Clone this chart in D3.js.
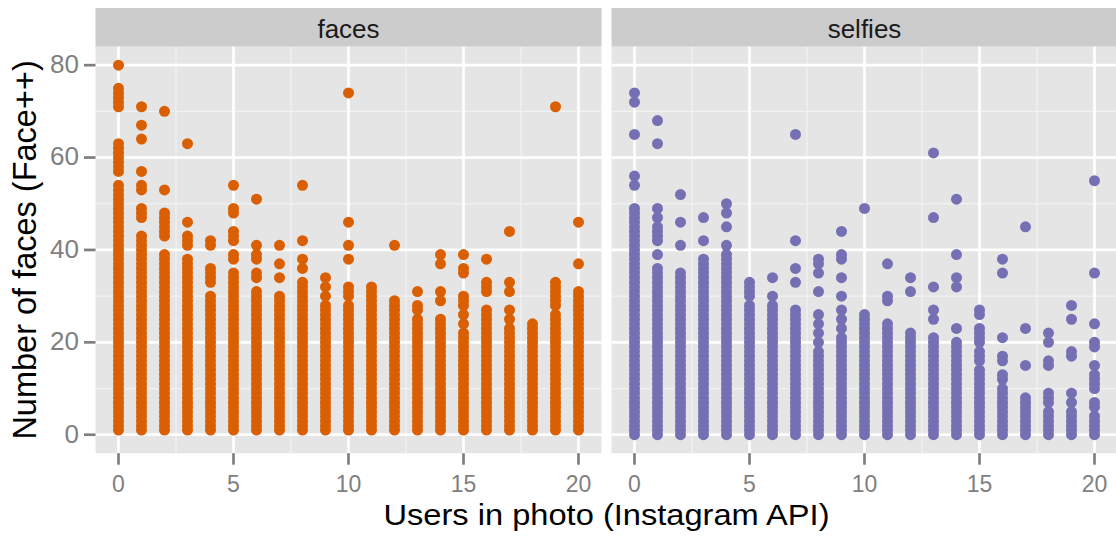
<!DOCTYPE html>
<html>
<head>
<meta charset="utf-8">
<script src="https://cdn.jsdelivr.net/npm/d3@7"></script>
<style>
  html, body { margin: 0; padding: 0; background: #fff; }
  svg { display: block; font-family: "Liberation Sans", Arial, sans-serif; }
</style>
</head>
<body>
<div id="chart"></div>
<script>
// users in photo (x) 0..20
const users = d3.range(0, 21);

// facet "faces": every count from 1 up to the top of the solid column is present,
// plus the loose points above it
const facesTop = [54, 42, 39, 38, 30, 35, 31, 30, 33, 28, 28, 31, 29, 25, 25, 22, 27, 22, 24, 26, 31];
const facesExtra = [
  [57, 58, 59, 60, 61, 62, 63, 71, 72, 73, 74, 75, 80],
  [43, 47, 48, 49, 53, 54, 57, 64, 67, 71],
  [43, 44, 45, 46, 47, 48, 53, 70],
  [41, 42, 43, 46, 63],
  [33, 34, 35, 36, 41, 42],
  [38, 39, 42, 43, 44, 48, 49, 54],
  [34, 35, 38, 39, 41, 51],
  [34, 37, 41],
  [36, 38, 42, 54],
  [30, 32, 34],
  [30, 31, 32, 38, 41, 46, 74],
  [32],
  [41],
  [27, 28, 31],
  [29, 31, 37, 39],
  [24, 26, 28, 29, 30, 35, 36, 39],
  [31, 32, 33, 38],
  [23, 25, 27, 31, 33, 44],
  [],
  [28, 29, 30, 31, 32, 33, 71],
  [37, 46],
];

// facet "selfies": solid column starts at 0
const selfiesTop = [49, 35, 35, 38, 39, 28, 24, 27, 18, 21, 26, 24, 22, 21, 20, 14, 10, 8, 5, 5, 4];
const selfiesExtra = [
  [54, 56, 65, 72, 74],
  [36, 39, 42, 43, 44, 45, 47, 49, 63, 68],
  [41, 46, 52],
  [42, 47],
  [41, 45, 48, 50],
  [30, 31, 32, 33],
  [25, 26, 27, 28, 30, 34],
  [33, 36, 42, 65],
  [20, 22, 24, 26, 31, 35, 37, 38],
  [23, 25, 27, 30, 34, 38, 39, 44],
  [49],
  [29, 30, 37],
  [31, 34],
  [25, 27, 32, 47, 61],
  [23, 32, 34, 39, 51],
  [16, 17, 18, 20, 21, 22, 23, 26, 27],
  [12, 13, 16, 17, 21, 35, 38],
  [15, 23, 45],
  [7, 8, 9, 15, 16, 20, 22],
  [7, 9, 17, 18, 25, 28],
  [6, 7, 10, 11, 12, 13, 15, 19, 20, 24, 35, 55],
];

const xTicks = [0, 5, 10, 15, 20];
const xMinor = [2.5, 7.5, 12.5, 17.5];
const yTicks = [0, 20, 40, 60, 80];
const yMinor = [10, 30, 50, 70];

const facets = [
  { name: "faces", start: 1, top: facesTop, extra: facesExtra, color: "#D95F02" },
  { name: "selfies", start: 0, top: selfiesTop, extra: selfiesExtra, color: "#7570B3" },
];

const width = 1116;
const height = 536;
const panelW = 506;
const panelLeft = [95.5, 611.5];
const stripTop = 8;
const panelTop = 46.7;
const panelBottom = 453.2;

const svg = d3.select("#chart")
  .append("svg")
  .attr("width", width)
  .attr("height", height);

const y = d3.scaleLinear().domain([-4, 84]).range([panelBottom, panelTop]);

facets.forEach((f, fi) => {
  const x0 = panelLeft[fi];
  const x = d3.scaleLinear().domain([-1, 21]).range([x0, x0 + panelW]);

  const points = [];
  users.forEach((u, i) => {
    d3.range(f.start, f.top[i] + 1).forEach((v) => points.push({ x: u, y: v }));
    f.extra[i].forEach((v) => points.push({ x: u, y: v }));
  });

  // strip
  svg.append("rect")
    .attr("x", x0)
    .attr("y", stripTop)
    .attr("width", panelW)
    .attr("height", panelTop - stripTop)
    .attr("fill", "#CCCCCC");

  svg.append("text")
    .attr("x", x0 + panelW / 2)
    .attr("y", 37.5)
    .attr("text-anchor", "middle")
    .attr("font-size", 26)
    .attr("fill", "#1A1A1A")
    .text(f.name);

  // panel
  svg.append("rect")
    .attr("x", x0)
    .attr("y", panelTop)
    .attr("width", panelW)
    .attr("height", panelBottom - panelTop)
    .attr("fill", "#E5E5E5");

  const g = svg.append("g");

  g.selectAll(".ymin")
    .data(yMinor)
    .join("line")
    .attr("x1", x0).attr("x2", x0 + panelW)
    .attr("y1", (d) => y(d)).attr("y2", (d) => y(d))
    .attr("stroke", "#F2F2F2").attr("stroke-width", 1.3);

  g.selectAll(".xmin")
    .data(xMinor)
    .join("line")
    .attr("x1", (d) => x(d)).attr("x2", (d) => x(d))
    .attr("y1", panelTop).attr("y2", panelBottom)
    .attr("stroke", "#F2F2F2").attr("stroke-width", 1.3);

  g.selectAll(".ymaj")
    .data(yTicks)
    .join("line")
    .attr("x1", x0).attr("x2", x0 + panelW)
    .attr("y1", (d) => y(d)).attr("y2", (d) => y(d))
    .attr("stroke", "#FFFFFF").attr("stroke-width", 2.7);

  g.selectAll(".xmaj")
    .data(xTicks)
    .join("line")
    .attr("x1", (d) => x(d)).attr("x2", (d) => x(d))
    .attr("y1", panelTop).attr("y2", panelBottom)
    .attr("stroke", "#FFFFFF").attr("stroke-width", 2.7);

  g.selectAll("circle")
    .data(points)
    .join("circle")
    .attr("cx", (d) => x(d.x))
    .attr("cy", (d) => y(d.y))
    .attr("r", 5.5)
    .attr("fill", f.color);

  // x axis ticks + labels
  const xa = svg.append("g");
  xa.selectAll("line")
    .data(xTicks)
    .join("line")
    .attr("x1", (d) => x(d)).attr("x2", (d) => x(d))
    .attr("y1", panelBottom).attr("y2", panelBottom + 11.5)
    .attr("stroke", "#7F7F7F").attr("stroke-width", 2.7);
  xa.selectAll("text")
    .data(xTicks)
    .join("text")
    .attr("x", (d) => x(d))
    .attr("y", 491.5)
    .attr("text-anchor", "middle")
    .attr("font-size", 23)
    .attr("fill", "#7F7F7F")
    .text((d) => d);
});

// y axis ticks + labels (left panel only)
const ya = svg.append("g");
ya.selectAll("line")
  .data(yTicks)
  .join("line")
  .attr("x1", panelLeft[0] - 11.5).attr("x2", panelLeft[0])
  .attr("y1", (d) => y(d)).attr("y2", (d) => y(d))
  .attr("stroke", "#7F7F7F").attr("stroke-width", 2.7);
ya.selectAll("text")
  .data(yTicks)
  .join("text")
  .attr("x", 79)
  .attr("y", (d) => y(d) + 7.8)
  .attr("text-anchor", "end")
  .attr("font-size", 26)
  .attr("fill", "#7F7F7F")
  .text((d) => d);

// axis titles
svg.append("text")
  .attr("x", (panelLeft[0] + panelLeft[1] + panelW) / 2)
  .attr("y", 524.5)
  .attr("text-anchor", "middle")
  .attr("font-size", 30)
  .attr("textLength", 446)
  .attr("lengthAdjust", "spacingAndGlyphs")
  .attr("fill", "#000")
  .text("Users in photo (Instagram API)");

svg.append("text")
  .attr("transform", "translate(36," + (panelTop + panelBottom) / 2 + ") rotate(-90)")
  .attr("text-anchor", "middle")
  .attr("font-size", 32.5)
  .attr("fill", "#000")
  .text("Number of faces (Face++)");
</script>
</body>
</html>
